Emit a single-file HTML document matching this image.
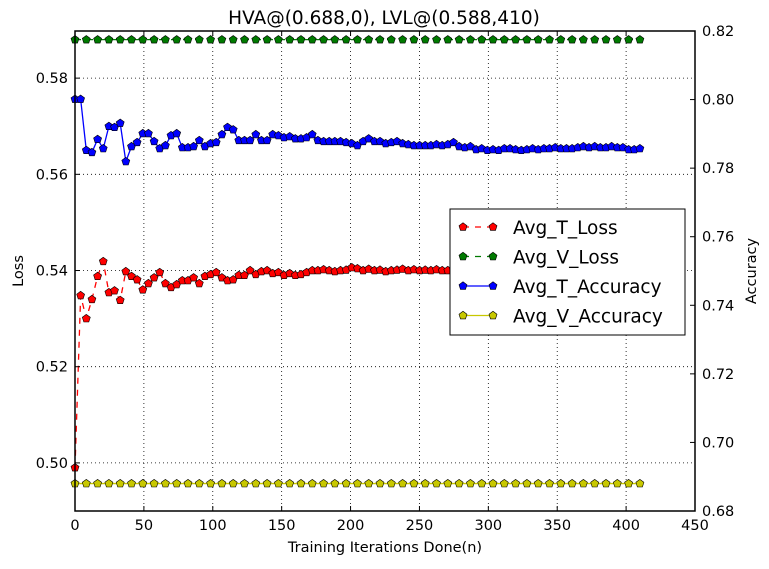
<!DOCTYPE html>
<html><head><meta charset="utf-8"><style>
body{margin:0;background:#fff;}
svg text{font-family:"DejaVu Sans","Liberation Sans",sans-serif;}
</style></head><body>
<svg id="chart" width="769" height="564" xmlns="http://www.w3.org/2000/svg">
<text x="384" y="24" font-size="18.5" text-anchor="middle">HVA@(0.688,0), LVL@(0.588,410)</text>
<text x="385" y="552" font-size="14.5" text-anchor="middle">Training Iterations Done(n)</text>
<text x="23" y="271" font-size="14.5" text-anchor="middle" transform="rotate(-90 23 271)">Loss</text>
<text x="756" y="271" font-size="14.5" text-anchor="middle" transform="rotate(-90 756 271)">Accuracy</text>
<g id="grid"></g><g id="series"></g><g id="axes"></g><g id="legend"></g>
</svg>
<script>
const xTicks=[0,50,100,150,200,250,300,350,400,450];
const lossTicks=[0.50,0.52,0.54,0.56,0.58];
const accTicks=[0.68,0.70,0.72,0.74,0.76,0.78,0.80,0.82];
const tLoss=[0.499,0.5348,0.530,0.534,0.5388,0.5419,0.5354,0.5358,0.5338,0.5398,0.5388,0.5381,0.5360,0.5373,0.5385,0.5396,0.5373,0.5365,0.5371,0.5379,0.5379,0.5385,0.5373,0.5388,0.5392,0.5396,0.5385,0.5379,0.5381,0.5390,0.5390,0.5400,0.5392,0.5398,0.5400,0.5394,0.5396,0.5390,0.5394,0.5390,0.5392,0.5396,0.5400,0.5400,0.5402,0.5400,0.5398,0.5400,0.5401,0.5406,0.5404,0.5400,0.5403,0.5400,0.5401,0.5398,0.5400,0.5401,0.5403,0.5400,0.5402,0.5400,0.5401,0.5400,0.5402,0.5400,0.5400,0.5402,0.5401,0.5403,0.5402,0.5400,0.5401,0.5403,0.5402,0.5404,0.5402,0.5401,0.5403,0.5402,0.5404,0.5403,0.5402,0.5404,0.5403,0.5405,0.5404,0.5403,0.5405,0.5404,0.5403,0.5405,0.5404,0.5406,0.5405,0.5404,0.5405,0.5406,0.5405,0.5404,0.5405];
const tAcc=[0.8001,0.8001,0.7852,0.7846,0.7884,0.7857,0.7922,0.7919,0.7931,0.7819,0.7863,0.7875,0.7901,0.7901,0.7878,0.7857,0.7866,0.7895,0.7901,0.7860,0.7860,0.7863,0.7881,0.7863,0.7872,0.7875,0.7898,0.7919,0.7912,0.7881,0.7881,0.7881,0.7898,0.7881,0.7881,0.7898,0.7895,0.7889,0.7892,0.7886,0.7886,0.7889,0.7898,0.7881,0.7878,0.7878,0.7878,0.7878,0.7875,0.7872,0.7866,0.7878,0.7886,0.7878,0.7878,0.7872,0.7875,0.7878,0.7872,0.7869,0.7866,0.7866,0.7866,0.7866,0.7869,0.7866,0.7869,0.7875,0.7863,0.7860,0.7863,0.7854,0.7857,0.7852,0.7854,0.7852,0.7857,0.7857,0.7854,0.7852,0.7854,0.7857,0.7854,0.7857,0.7857,0.7860,0.7857,0.7857,0.7857,0.7860,0.7863,0.7860,0.7863,0.7860,0.7860,0.7863,0.7860,0.7860,0.7854,0.7854,0.7857];
const vLoss=Array(51).fill(0.588);
const vAcc=Array(51).fill(0.688);
const X0=75,X1=695,Y0=31,Y1=511;
const sx=v=>X0+(v/450)*(X1-X0);
const sl=v=>Y1-(v-0.49)/0.0998*(Y1-Y0);
const sa=v=>Y1-(v-0.68)/0.14*(Y1-Y0);
const NS="http://www.w3.org/2000/svg";
function mk(tag,attrs,parent){const e=document.createElementNS(NS,tag);for(const k in attrs)e.setAttribute(k,attrs[k]);parent.appendChild(e);return e;}
const grid=document.getElementById('grid'),axes=document.getElementById('axes'),ser=document.getElementById('series'),leg=document.getElementById('legend');
xTicks.forEach(t=>{const x=sx(t);
 if(t>0&&t<450){const g=mk('line',{x1:x,x2:x,y1:Y0,y2:Y1,stroke:'#000','stroke-width':0.8,'stroke-dasharray':'1,3'},grid);}
 mk('line',{x1:x,x2:x,y1:Y1,y2:Y1-5,stroke:'#000'},axes);mk('line',{x1:x,x2:x,y1:Y0,y2:Y0+5,stroke:'#000'},axes);
 const tx=mk('text',{x:x,y:Y1+19,'font-size':14.5,'text-anchor':'middle'},axes);tx.textContent=t;
 });
lossTicks.forEach(t=>{const y=sl(t);
 const g=mk('line',{x1:X0,x2:X1,y1:y,y2:y,stroke:'#000','stroke-width':0.8,'stroke-dasharray':'1,3'},grid);
 mk('line',{x1:X0,x2:X0+5,y1:y,y2:y,stroke:'#000'},axes);
 const tx=mk('text',{x:X0-7,y:y+5,'font-size':14.5,'text-anchor':'end'},axes);tx.textContent=t.toFixed(2);
 });
accTicks.forEach(t=>{const y=sa(t);
 mk('line',{x1:X1,x2:X1-5,y1:y,y2:y,stroke:'#000'},axes);
 const tx=mk('text',{x:X1+7,y:y+5,'font-size':14.5,'text-anchor':'start'},axes);tx.textContent=t.toFixed(2);
 });
const fr=mk('rect',{x:X0,y:Y0,width:X1-X0,height:Y1-Y0,fill:'none',stroke:'#000','stroke-width':1.5},axes);

function pent(cx,cy,r){let p=[];for(let i=0;i<5;i++){const a=-Math.PI/2+i*2*Math.PI/5;p.push((cx+r*Math.cos(a)).toFixed(1)+','+(cy+r*Math.sin(a)).toFixed(1));}return p.join(' ');}
function draw(vals,step,scale,color,dash,name){
 const g=mk('g',{},ser);
 const pts=vals.map((v,i)=>[sx(i*step),scale(v)]);
 mk('polyline',{points:pts.map(p=>p.join(',')).join(' '),fill:'none',stroke:color,'stroke-width':1.3,'stroke-dasharray':dash||'none'},g);
 pts.forEach(p=>{const m=mk('polygon',{points:pent(p[0],p[1],4.2),fill:color,stroke:'#000','stroke-width':0.6},g);
  });
}
draw(vLoss,8.2,sl,'#007a00','6,6','avg-v-loss-series');
draw(vAcc,8.2,sa,'#c8c800',null,'avg-v-accuracy-series');
draw(tAcc,4.1,sa,'#0000ff',null,'avg-t-accuracy-series');
draw(tLoss,4.1,sl,'#ff0000','6,6','avg-t-loss-series');
const lb=mk('rect',{x:450,y:209,width:235,height:126,fill:'#fff',stroke:'#000','stroke-width':1},leg);

const labels=['Avg_T_Loss','Avg_V_Loss','Avg_T_Accuracy','Avg_V_Accuracy'];
const colors=['#ff0000','#007a00','#0000ff','#c8c800'];
const dashes=['6,6','6,6','none','none'];
labels.forEach((l,i)=>{const y=227+i*29.5;
 const g=mk('g',{},leg);
 mk('line',{x1:463,x2:493,y1:y,y2:y,stroke:colors[i],'stroke-width':1.3,'stroke-dasharray':dashes[i]},g);
 mk('polygon',{points:pent(463,y,4.2),fill:colors[i],stroke:'#000','stroke-width':0.6},g);
 mk('polygon',{points:pent(493,y,4.2),fill:colors[i],stroke:'#000','stroke-width':0.6},g);
 const t=mk('text',{x:513,y:y+7,'font-size':18.5},g);t.textContent=l;});
</script>
</body></html>
